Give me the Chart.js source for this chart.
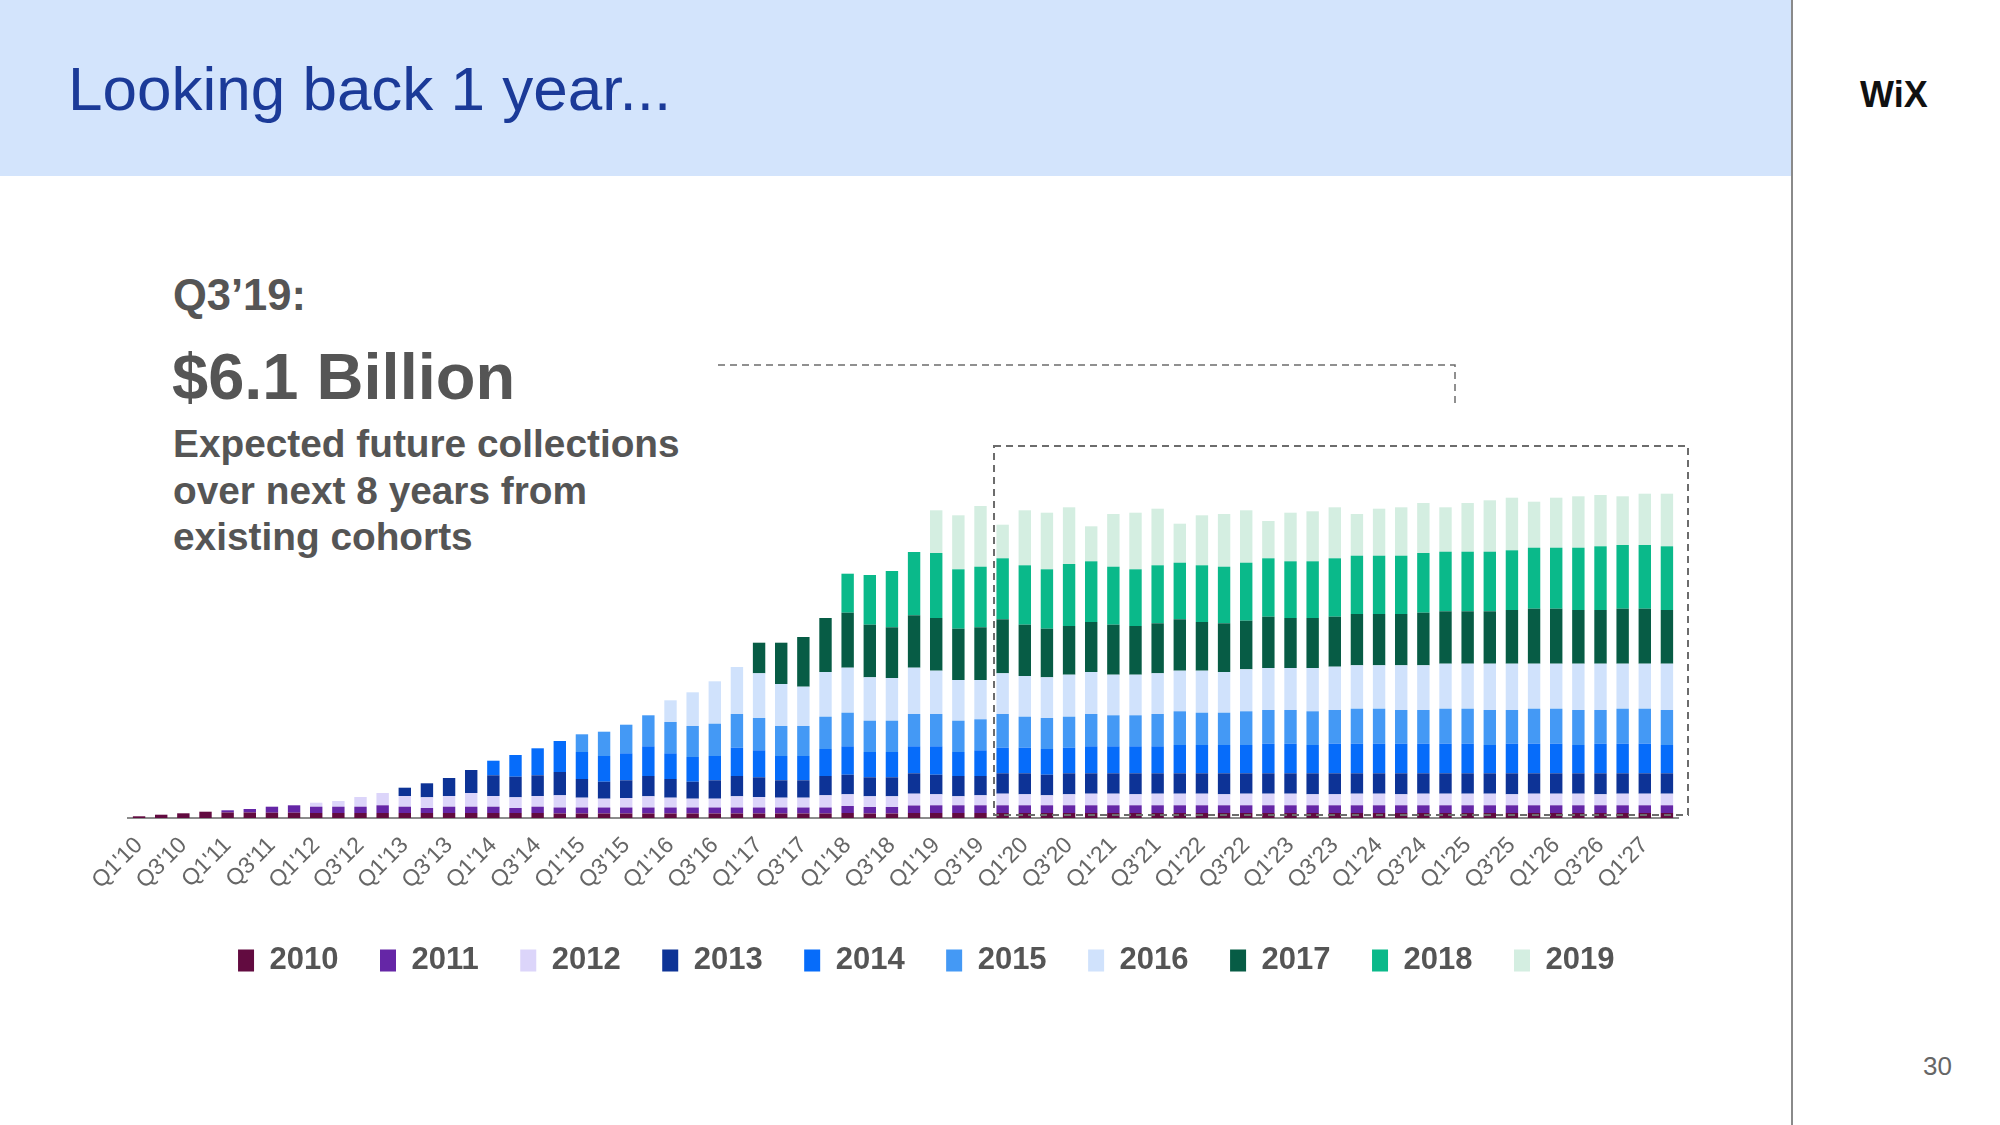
<!DOCTYPE html>
<html>
<head>
<meta charset="utf-8">
<title>Looking back 1 year</title>
<script src="https://cdn.jsdelivr.net/npm/chart.js@4/dist/chart.umd.min.js"></script>
<style>
  html, body { margin: 0; padding: 0; background: #fff; }
  body { width: 2000px; height: 1125px; position: relative; overflow: hidden;
         font-family: "Liberation Sans", Arial, Helvetica, sans-serif; }
  .band { position: absolute; left: 0; top: 0; width: 1792px; height: 176px; background: #d3e4fc; }
  .divider { position: absolute; left: 1791px; top: 0; width: 2px; height: 1125px; background: #8a8a8a; }
  .title { position: absolute; left: 68px; top: 58px; font-size: 62px; line-height: 1; color: #1b3a98; white-space: nowrap; }
  .logo { position: absolute; left: 1860px; top: 77px; font-size: 36px; line-height: 1; font-weight: bold; color: #111; }
  .pnum { position: absolute; left: 1923px; top: 1053px; font-size: 26px; line-height: 1; color: #666; }
  .q { position: absolute; left: 173px; top: 274px; font-size: 43.5px; line-height: 1; font-weight: bold; color: #555; }
  .big { position: absolute; left: 172px; top: 344px; font-size: 65px; line-height: 1; font-weight: bold; color: #555; white-space: nowrap; }
  .desc { position: absolute; left: 173px; top: 421px; font-size: 38.8px; line-height: 46.5px; font-weight: bold; color: #555; white-space: nowrap; }
  #chartWrap { position: absolute; left: 0; top: 300px; width: 1760px; height: 686px; }
</style>
</head>
<body>
<div class="band"></div>
<div class="divider"></div>
<div class="title">Looking back 1 year...</div>
<div class="logo">WiX</div>
<div class="pnum">30</div>
<div class="q">Q3’19:</div>
<div class="big">$6.1 Billion</div>
<div class="desc">Expected future collections<br>over next 8 years from<br>existing cohorts</div>
<div id="chartWrap"><canvas id="cohortChart" width="1760" height="686"></canvas></div>

<script>
const quarters = [
    "Q1'10", "Q2'10", "Q3'10", "Q4'10", "Q1'11", "Q2'11", "Q3'11", "Q4'11",
    "Q1'12", "Q2'12", "Q3'12", "Q4'12", "Q1'13", "Q2'13", "Q3'13", "Q4'13",
    "Q1'14", "Q2'14", "Q3'14", "Q4'14", "Q1'15", "Q2'15", "Q3'15", "Q4'15",
    "Q1'16", "Q2'16", "Q3'16", "Q4'16", "Q1'17", "Q2'17", "Q3'17", "Q4'17",
    "Q1'18", "Q2'18", "Q3'18", "Q4'18", "Q1'19", "Q2'19", "Q3'19", "Q4'19",
    "Q1'20", "Q2'20", "Q3'20", "Q4'20", "Q1'21", "Q2'21", "Q3'21", "Q4'21",
    "Q1'22", "Q2'22", "Q3'22", "Q4'22", "Q1'23", "Q2'23", "Q3'23", "Q4'23",
    "Q1'24", "Q2'24", "Q3'24", "Q4'24", "Q1'25", "Q2'25", "Q3'25", "Q4'25",
    "Q1'26", "Q2'26", "Q3'26", "Q4'26", "Q1'27", "Q2'27"
];

const cohorts = ['2010', '2011', '2012', '2013', '2014', '2015', '2016', '2017', '2018', '2019'];
const cohortColors = ['#620b40', '#6526a6', '#dcd5fa', '#0d3396', '#066cfa',
                      '#4499f5', '#d0e2fc', '#075c45', '#0ab98a', '#d4eee1'];

// collections per cohort, one value per quarter (Q1'10 .. Q2'27)
const c2010 = [
    1.7, 3.3, 4.7, 6.3, 5.5, 5.5, 5.3, 5.3, 5, 5,
    5, 5, 5, 5, 5, 5, 5, 5, 5, 4.5,
    4.5, 4.5, 4.5, 4.5, 4.5, 4.5, 4.5, 4.5, 4.5, 4.5,
    4.5, 4.5, 5, 4.5, 4.5, 5, 5, 5, 5, 5,
    5, 5, 5, 5, 5, 5, 5, 5, 5, 5,
    5, 5, 5, 5, 5, 5, 5, 5, 5, 5,
    5, 5, 5, 5, 5, 5, 5, 5, 5, 5
];
const c2011 = [
    0, 0, 0, 0, 2.2, 3.5, 6, 7.4, 6.3, 6.3,
    6.3, 7.7, 6.3, 5, 6.3, 6.3, 6.3, 5, 6.3, 6,
    6, 6, 6, 6, 6, 6, 6, 6, 6, 6,
    6, 6, 7, 6.5, 6.5, 7.5, 7.7, 7.7, 7.7, 7.7,
    7.7, 7.7, 7.7, 7.7, 7.7, 7.7, 7.7, 7.7, 7.7, 7.7,
    7.7, 7.7, 7.7, 7.7, 7.7, 7.7, 7.7, 7.7, 7.7, 7.7,
    7.7, 7.7, 7.7, 7.7, 7.7, 7.7, 7.7, 7.7, 7.7, 7.7
];
const c2012 = [
    0, 0, 0, 0, 0, 0, 0, 0, 4, 5.7,
    9.7, 12.3, 10.7, 10.7, 10.7, 13.7, 10.7, 10.7, 10.7, 12.2,
    9.8, 8.8, 9.5, 11.2, 9.8, 8.8, 8.8, 11.2, 10.5, 9.8,
    9.8, 12.2, 11.7, 10.7, 10.7, 11.8, 11, 9, 10, 11.6,
    11, 10, 11, 11.6, 11.6, 11, 11.6, 11.6, 11.6, 11,
    11.6, 11.6, 11.6, 11, 11, 11.6, 11.6, 11, 11.6, 11.6,
    11.6, 11.6, 11, 11.6, 11.6, 11.6, 11, 11.6, 11.6, 11.6
];
const c2013 = [
    0, 0, 0, 0, 0, 0, 0, 0, 0, 0,
    0, 0, 8.3, 14, 18, 23, 20.7, 20.6, 20.7, 23.3,
    18.7, 17, 17.7, 20.3, 18.7, 17, 18.4, 20.3, 19.7, 17.4,
    17.4, 19.3, 19.6, 19, 19, 20.4, 19.6, 20.3, 19.3, 20.4,
    21, 20.6, 21, 20.4, 20.4, 21, 20.4, 20.4, 20.4, 21,
    20.4, 20.4, 20.4, 21, 21, 20.4, 20.4, 21, 20.4, 20.4,
    20.4, 20.4, 21, 20.4, 20.4, 20.4, 21, 20.4, 20.4, 20.4
];
const c2014 = [
    0, 0, 0, 0, 0, 0, 0, 0, 0, 0,
    0, 0, 0, 0, 0, 0, 14.6, 21.7, 27, 31,
    27, 25.7, 27, 29.7, 25.7, 24.7, 24.3, 28.3, 27, 24.3,
    24.3, 27, 28.4, 25.3, 25.3, 27, 28.4, 24, 25.7, 25.6,
    25.6, 25.7, 25.6, 27, 27, 27, 27, 28.3, 28.3, 28.3,
    28.3, 29.6, 29.6, 28.3, 29.6, 29.6, 29.6, 29.6, 29.6, 29.6,
    29.6, 28.3, 29.6, 29.6, 29.6, 28.3, 29.6, 29.6, 29.6, 28.3
];
const c2015 = [
    0, 0, 0, 0, 0, 0, 0, 0, 0, 0,
    0, 0, 0, 0, 0, 0, 0, 0, 0, 0,
    17.7, 24.3, 28.6, 31, 31.3, 31, 32.3, 33.7, 32.3, 30,
    30, 32.3, 33.6, 31.3, 31.3, 32.3, 32.3, 31.3, 31, 33.7,
    31, 31, 31, 32.3, 31, 31, 32.3, 33.7, 32.3, 32.3,
    33.7, 33.7, 33.7, 33.7, 33.7, 35, 35, 33.7, 33.7, 35,
    35, 35, 33.7, 35, 35, 35, 33.7, 35, 35, 35
];
const c2016 = [
    0, 0, 0, 0, 0, 0, 0, 0, 0, 0,
    0, 0, 0, 0, 0, 0, 0, 0, 0, 0,
    0, 0, 0, 0, 21.7, 33.7, 42.4, 47, 44.7, 42,
    39.3, 44.7, 45, 43.4, 42.7, 46.3, 43.3, 40.7, 39.3, 40.7,
    40.7, 40.7, 42, 42, 40.6, 40.6, 40.7, 40.6, 42, 40.7,
    42, 42, 42, 43.3, 43.3, 43.4, 43.4, 44.7, 44.7, 45,
    45, 46.3, 46.3, 45, 45, 46.3, 46.3, 45, 45, 46.3
];
const c2017 = [
    0, 0, 0, 0, 0, 0, 0, 0, 0, 0,
    0, 0, 0, 0, 0, 0, 0, 0, 0, 0,
    0, 0, 0, 0, 0, 0, 0, 0, 30.6, 41.3,
    49.7, 54, 55, 52.6, 50.7, 52.4, 52.7, 51.3, 52.7, 54,
    51.3, 48.6, 48.7, 50, 50, 48.7, 50, 51.4, 48.7, 48.7,
    48.6, 51.3, 50, 50, 50, 51.3, 51.3, 51.3, 52.6, 52.4,
    52.4, 52.4, 53.7, 55, 55, 53.7, 53.7, 55, 55, 53.7
];
const c2018 = [
    0, 0, 0, 0, 0, 0, 0, 0, 0, 0,
    0, 0, 0, 0, 0, 0, 0, 0, 0, 0,
    0, 0, 0, 0, 0, 0, 0, 0, 0, 0,
    0, 0, 39, 49.7, 56.3, 63.3, 65, 59.4, 60.6, 61,
    59.4, 59.4, 62, 60.7, 58, 56.7, 58, 56.6, 56.7, 56.6,
    58, 58.4, 56.7, 56.7, 58.4, 58.3, 58.3, 58.3, 59.7, 59.6,
    59.6, 59.6, 59.7, 61, 61, 62.3, 63.7, 63.7, 63.7, 63.7
];
const c2019 = [
    0, 0, 0, 0, 0, 0, 0, 0, 0, 0,
    0, 0, 0, 0, 0, 0, 0, 0, 0, 0,
    0, 0, 0, 0, 0, 0, 0, 0, 0, 0,
    0, 0, 0, 0, 0, 0, 42.7, 54, 60.7, 33.6,
    55, 56.6, 56.7, 35, 52.7, 56.6, 56.6, 39, 50, 52.7,
    52.4, 37.3, 48.6, 50, 51, 41.7, 47, 48.4, 50, 44.4,
    48.7, 51.4, 52.6, 46, 50, 51.4, 51.3, 48.7, 51.3, 52.6
];

const cohortValues = [c2010, c2011, c2012, c2013, c2014, c2015, c2016, c2017, c2018, c2019];

// first quarter inside the dashed "future" box
const futureStart = "Q4'19";

Chart.defaults.font.family = '"Liberation Sans", Arial, Helvetica, sans-serif';

// dashed frame round the forecast quarters, plus the bracket from the headline
const futureBox = {
    id: 'futureBox',
    afterDatasetsDraw(chart) {
        const { ctx, chartArea, scales: { x, y } } = chart;
        const i0 = quarters.indexOf(futureStart);
        const step = x.getPixelForValue(1) - x.getPixelForValue(0);
        const left = x.getPixelForValue(i0) - step * 0.39;
        const right = chartArea.right + 10;
        const top = y.getPixelForValue(372);
        const bottom = y.getPixelForValue(3);

        ctx.save();
        ctx.strokeStyle = '#6c6c6c';
        ctx.lineWidth = 2;
        ctx.setLineDash([7, 5]);
        ctx.strokeRect(left, top, right - left, bottom - top);

        ctx.lineWidth = 1.5;
        ctx.beginPath();
        ctx.moveTo(718, y.getPixelForValue(453));
        ctx.lineTo(1455, y.getPixelForValue(453));
        ctx.lineTo(1455, y.getPixelForValue(413));
        ctx.stroke();
        ctx.restore();
    }
};

const ctx = document.getElementById('cohortChart').getContext('2d');
new Chart(ctx, {
    type: 'bar',
    data: {
        labels: quarters,
        datasets: cohorts.map((year, i) => ({
            label: year,
            data: cohortValues[i],
            backgroundColor: cohortColors[i],
            borderWidth: 0,
            barPercentage: 0.56,
            categoryPercentage: 1
        }))
    },
    options: {
        responsive: false,
        animation: false,
        devicePixelRatio: 1,
        layout: { padding: { left: 128, right: 35.5, top: 0, bottom: 0 } },
        plugins: {
            tooltip: { enabled: false },
            legend: {
                position: 'bottom',
                labels: {
                    boxWidth: 16,
                    boxHeight: 22,
                    padding: 41.5,
                    color: '#555',
                    font: { size: 31, weight: 'bold' }
                }
            }
        },
        scales: {
            x: {
                stacked: true,
                grid: { display: false },
                border: { display: true, color: '#8c8c8c', width: 2 },
                ticks: {
                    autoSkip: false,
                    minRotation: 45,
                    maxRotation: 45,
                    padding: 6,
                    color: '#666',
                    font: { size: 23 },
                    callback: function (val, i) {
                        return i % 2 === 0 ? this.getLabelForValue(val) : '';
                    }
                },
                afterFit: (s) => { s.height = 85.5; }
            },
            y: {
                stacked: true,
                position: 'right',
                min: 0,
                max: 518,
                grid: { display: false },
                border: { display: false },
                ticks: { display: false },
                afterFit: (s) => { s.width = 46.5; }
            }
        }
    },
    plugins: [futureBox]
});
</script>
</body>
</html>
